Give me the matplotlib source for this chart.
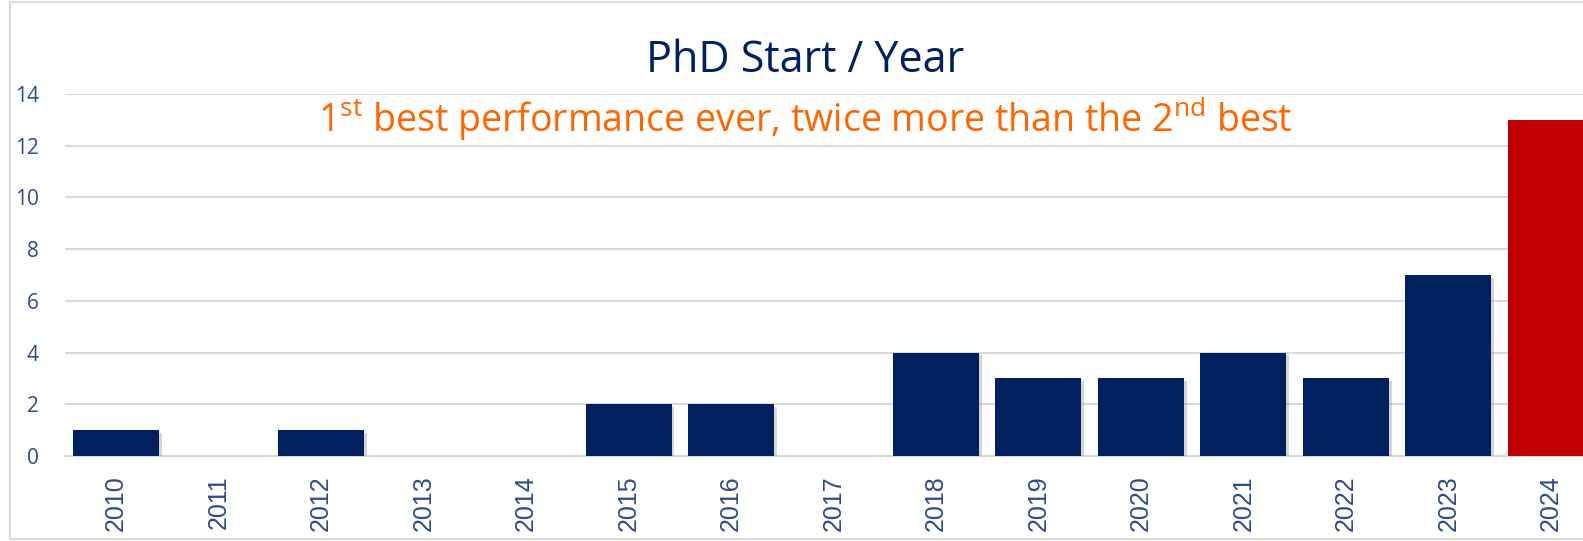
import matplotlib
matplotlib.use("Agg")
import matplotlib.pyplot as plt
import matplotlib.patheffects as pe
from matplotlib.patches import Rectangle

years = ["2010", "2011", "2012", "2013", "2014", "2015", "2016", "2017",
         "2018", "2019", "2020", "2021", "2022", "2023", "2024"]
phd_starts = [1, 0, 1, 0, 0, 2, 2, 0, 4, 3, 3, 4, 3, 7, 13]
y_ticks = [0, 2, 4, 6, 8, 10, 12, 14]
title = "PhD Start / Year"
subtitle = r"1$^{\mathrm{st}}$ best performance ever, twice more than the 2$^{\mathrm{nd}}$ best"

NAVY = "#002060"
RED = "#C00000"
ORANGE = "#FF6600"
TICK = "#2F4A88"
GRID = "#D9D9D9"

plt.rcParams["mathtext.fontset"] = "custom"
plt.rcParams["mathtext.rm"] = "Open Sans"

W, H = 1583, 541
fig = plt.figure(figsize=(W / 100, H / 100), dpi=100)
fig.patch.set_facecolor("white")

# outer border of the chart area
fig.patches.append(Rectangle((10 / W, 2 / H), 1.2, (H - 4) / H, transform=fig.transFigure,
                             fill=False, edgecolor=GRID, linewidth=1.5))

left = 65 / W
right = 1602 / W
bottom = (H - 456) / H
top = (H - 94) / H
ax = fig.add_axes([left, bottom, right - left, top - bottom])

x = list(range(len(years)))
colors = [NAVY] * (len(years) - 1) + [RED]
bars = ax.bar(x, phd_starts, width=0.84, color=colors, zorder=3)
for b in bars:
    b.set_path_effects([pe.SimplePatchShadow(offset=(2, -2), shadow_rgbFace="#888888", alpha=0.35),
                        pe.Normal()])

ax.set_xlim(-0.5, len(years) - 0.5)
ax.set_ylim(0, 14)
ax.set_yticks(y_ticks)
ax.set_yticklabels([str(v) for v in y_ticks], fontfamily="Open Sans", fontsize=15, color=TICK)
ax.set_xticks(x)
ax.set_xticklabels(years, rotation=90, fontfamily="Liberation Sans", fontsize=18, color=TICK)
ax.tick_params(axis="both", length=0)
ax.tick_params(axis="y", pad=19)
ax.tick_params(axis="x", pad=14)
ax.grid(axis="y", color=GRID, linewidth=1.5, zorder=0)
for s in ["left", "right", "top"]:
    ax.spines[s].set_visible(False)
ax.spines["bottom"].set_color(GRID)
ax.spines["bottom"].set_linewidth(1.5)

fig.text(805 / W, (H - 72) / H, title, ha="center", va="baseline",
         fontfamily="Open Sans", fontsize=31, color=NAVY)
fig.text(805 / W, (H - 131) / H, subtitle, ha="center", va="baseline",
         fontfamily="Open Sans", fontsize=27, color=ORANGE)

fig.savefig("out.png", dpi=100)
